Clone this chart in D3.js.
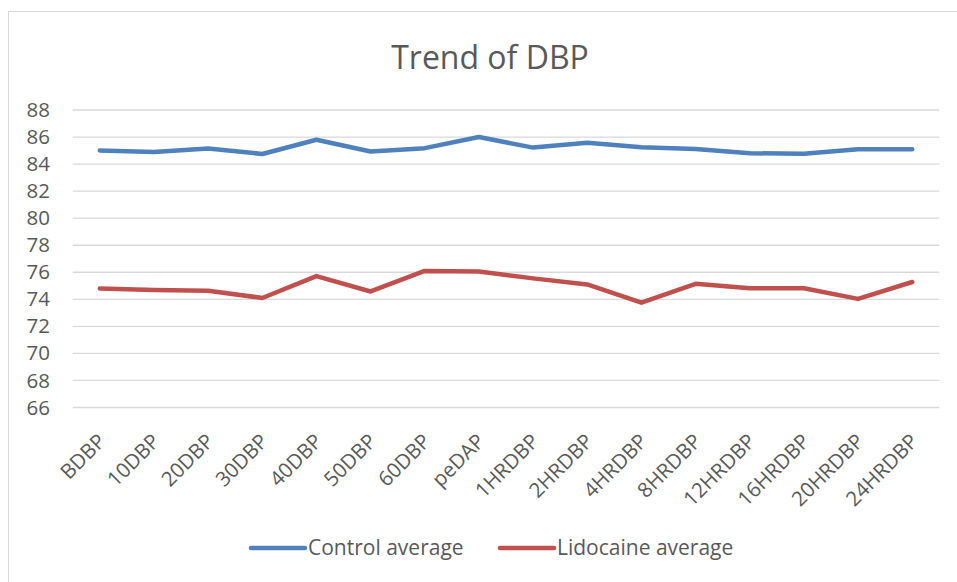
<!DOCTYPE html>
<html>
<head>
<meta charset="utf-8">
<script src="https://cdn.jsdelivr.net/npm/d3@7"></script>
<style>
  html, body { margin: 0; padding: 0; background: #fff; }
  svg { display: block; font-family: "Open Sans", "Noto Sans", sans-serif; }
</style>
</head>
<body>
<svg id="chart" width="957" height="582"></svg>
<script>
// Time points of diastolic blood pressure measurements
const categories = ["BDBP", "10DBP", "20DBP", "30DBP", "40DBP", "50DBP", "60DBP", "peDAP",
  "1HRDBP", "2HRDBP", "4HRDBP", "8HRDBP", "12HRDBP", "16HRDBP", "20HRDBP", "24HRDBP"];

// Group averages (mmHg)
const controlAverage = [85.0, 84.9, 85.15, 84.75, 85.8, 84.93, 85.18, 86.0,
  85.22, 85.58, 85.25, 85.12, 84.8, 84.77, 85.1, 85.1];
const lidocaineAverage = [74.8, 74.68, 74.64, 74.1, 75.72, 74.58, 76.1, 76.05,
  75.55, 75.1, 73.75, 75.15, 74.82, 74.82, 74.03, 75.28];

const yTicks = [66, 68, 70, 72, 74, 76, 78, 80, 82, 84, 86, 88];

const series = [
  { name: "Control average", values: controlAverage, color: "#4F81BD" },
  { name: "Lidocaine average", values: lidocaineAverage, color: "#C0504D" }
];

const svg = d3.select("#chart");
const W = 957, H = 582;

// Chart frame
svg.append("rect")
  .attr("x", 8.5).attr("y", 11.5)
  .attr("width", W + 20).attr("height", H + 20)
  .attr("fill", "#fff")
  .attr("stroke", "#d9d9d9").attr("stroke-width", 1);

const x = d3.scaleBand()
  .domain(categories)
  .range([72.7, 939.3]);

const y = d3.scaleLinear()
  .domain([66, 88])
  .range([407.5, 110]);

// Title
svg.append("text")
  .attr("x", 490).attr("y", 69)
  .attr("text-anchor", "middle")
  .attr("font-size", 32)
  .attr("fill", "#595959")
  .text("Trend of DBP");

// Horizontal gridlines
svg.append("g")
  .selectAll("line")
  .data(yTicks)
  .join("line")
  .attr("x1", x.range()[0]).attr("x2", x.range()[1])
  .attr("y1", d => y(d)).attr("y2", d => y(d))
  .attr("stroke", "#d9d9d9").attr("stroke-width", 1.3);

// Y axis labels
const yAxis = d3.axisLeft(y).tickValues(yTicks).tickSize(0).tickPadding(0);
const gy = svg.append("g")
  .attr("transform", "translate(50,0)")
  .call(yAxis);
gy.select(".domain").remove();
gy.selectAll("text")
  .attr("font-family", "Open Sans, sans-serif")
  .attr("font-size", 20.5)
  .attr("fill", "#595959");

// X axis labels (rotated)
const xAxis = d3.axisBottom(x).tickSize(0).tickPadding(0);
const gx = svg.append("g")
  .attr("transform", "translate(0,407.5)")
  .call(xAxis);
gx.select(".domain").remove();
gx.selectAll("text")
  .attr("font-family", "Open Sans, sans-serif")
  .attr("font-size", 20.5)
  .attr("fill", "#595959")
  .attr("text-anchor", "end")
  .attr("dy", "0.35em")
  .attr("transform", "translate(2,30) rotate(-45)");

// Series lines
const line = d3.line()
  .x((d, i) => x(categories[i]) + x.bandwidth() / 2)
  .y(d => y(d));

svg.append("g")
  .selectAll("path")
  .data(series)
  .join("path")
  .attr("d", d => line(d.values))
  .attr("fill", "none")
  .attr("stroke", d => d.color)
  .attr("stroke-width", 4.5)
  .attr("stroke-linejoin", "round")
  .attr("stroke-linecap", "round");

// Legend
const legendX = [251, 500];
const legend = svg.append("g")
  .selectAll("g")
  .data(series)
  .join("g")
  .attr("transform", (d, i) => `translate(${legendX[i]},548)`);
legend.append("line")
  .attr("x1", 0).attr("x2", 54)
  .attr("stroke", d => d.color)
  .attr("stroke-width", 4.5)
  .attr("stroke-linecap", "round");
legend.append("text")
  .attr("x", 57).attr("y", 0)
  .attr("dy", "0.35em")
  .attr("font-size", 21)
  .attr("fill", "#595959")
  .text(d => d.name);
</script>
</body>
</html>
